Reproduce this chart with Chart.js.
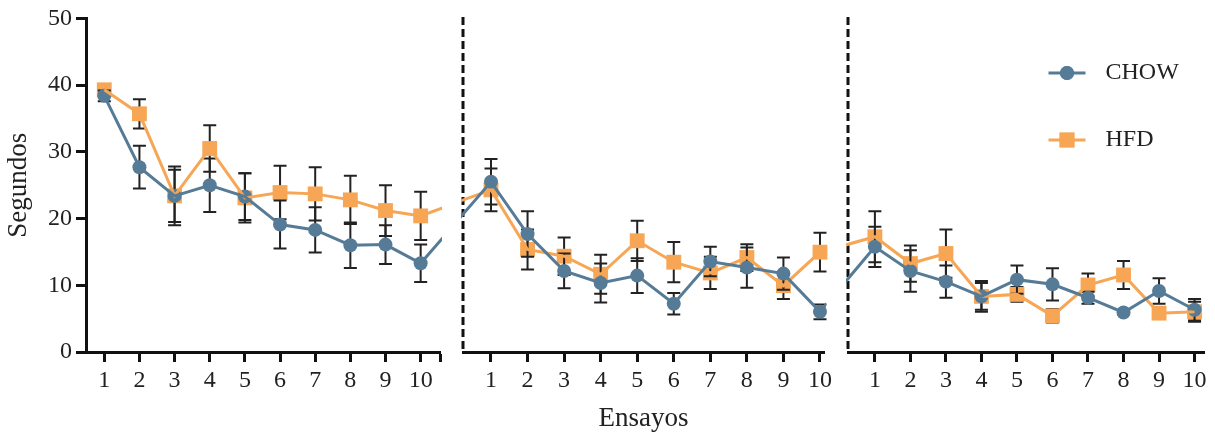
<!DOCTYPE html>
<html>
<head>
<meta charset="utf-8">
<script src="https://cdn.jsdelivr.net/npm/chart.js@4.4.1/dist/chart.umd.min.js"></script>
<style>
  html, body { margin: 0; padding: 0; background: #fff; }
  #wrap { position: relative; width: 1215px; height: 435px; }
  #wrap canvas { position: absolute; left: 0; top: 0; }
</style>
</head>
<body>
<div id="wrap">
  <canvas id="block1" width="1215" height="435"></canvas>
  <canvas id="block2" width="1215" height="435"></canvas>
  <canvas id="block3" width="1215" height="435"></canvas>
</div>
<script>
// ---------- data ----------
const trials = [1, 2, 3, 4, 5, 6, 7, 8, 9, 10];
const yTicks = [0, 10, 20, 30, 40, 50];
const seriesNames = ["CHOW", "HFD"];

const chowB1 = [38.4, 27.7, 23.4, 25.0, 23.3, 19.1, 18.3, 16.0, 16.1, 13.3];
const chowErrB1 = [0.8, 3.2, 3.9, 4.0, 3.5, 3.6, 3.4, 3.4, 2.9, 2.8];
const hfdB1 = [39.3, 35.7, 23.4, 30.5, 23.1, 23.9, 23.7, 22.8, 21.2, 20.4];
const hfdErrB1 = [0.5, 2.2, 4.4, 3.5, 3.7, 4.0, 4.0, 3.6, 3.8, 3.6];

const chowB2 = [25.4, 17.6, 12.1, 10.3, 11.4, 7.2, 13.5, 12.6, 11.7, 6.0];
const chowErrB2 = [3.4, 3.4, 2.6, 2.9, 2.6, 1.6, 2.2, 3.0, 2.4, 1.1];
const hfdB2 = [24.2, 15.3, 14.3, 11.6, 16.6, 13.4, 11.8, 14.1, 9.9, 14.9];
const hfdErrB2 = [3.2, 3.0, 2.8, 2.9, 3.0, 3.0, 2.4, 2.0, 2.0, 2.9];

const chowB3 = [15.7, 12.1, 10.5, 8.3, 10.8, 10.1, 8.1, 5.9, 9.1, 6.3];
const chowErrB3 = [3.0, 3.1, 2.4, 2.3, 2.1, 2.4, 0.9, 0.3, 1.9, 1.6];
const hfdB3 = [17.2, 13.2, 14.7, 8.3, 8.6, 5.4, 10.0, 11.5, 5.8, 6.0];
const hfdErrB3 = [3.8, 2.7, 3.6, 2.0, 1.1, 1.0, 1.7, 2.1, 0.4, 1.5];

const chowBlocks = [chowB1, chowB2, chowB3];
const chowErrs = [chowErrB1, chowErrB2, chowErrB3];
const hfdBlocks = [hfdB1, hfdB2, hfdB3];
const hfdErrs = [hfdErrB1, hfdErrB2, hfdErrB3];

// ---------- style ----------
const BLUE = "#557b97";
const ORANGE = "#f6a654";
const INK = "#222";
const AXIS = "#111";
const FONT = "'Liberation Serif', 'Times New Roman', serif";

Chart.defaults.font.family = FONT;
Chart.defaults.color = INK;

// panel layout (pixels) and x range; prevX / nextX place the neighbouring
// block's point so the connecting line runs across the break
const panels = [
  { id: "block1", left: 0,   right: 440,  yWidth: 86, min: 0.48,  max: 10.55, prevX: null,  nextX: 12.0 },
  { id: "block2", left: 463, right: 824,  yWidth: 0,  min: 0.234, max: 10.11, prevX: -0.92, nextX: 11.5 },
  { id: "block3", left: 848, right: 1206, yWidth: 0,  min: 0.243, max: 10.28, prevX: -0.54, nextX: null }
];

// ---------- plugins ----------
const errorBars = {
  id: "errorBars",
  beforeDatasetDraw(chart, args) {
    const ds = chart.data.datasets[args.index];
    if (!ds.errors) return;
    const y = chart.scales.y, ctx = chart.ctx;
    ctx.save();
    ctx.strokeStyle = INK;
    ctx.lineWidth = 2;
    args.meta.data.forEach((pt, i) => {
      const v = ds.data[i].y, e = ds.errors[i];
      const top = y.getPixelForValue(v + e), bot = y.getPixelForValue(v - e);
      ctx.beginPath();
      ctx.moveTo(pt.x, top); ctx.lineTo(pt.x, bot);
      ctx.moveTo(pt.x - 6.5, top); ctx.lineTo(pt.x + 6.5, top);
      ctx.moveTo(pt.x - 6.5, bot); ctx.lineTo(pt.x + 6.5, bot);
      ctx.stroke();
    });
    ctx.restore();
  }
};

// dashed break line on the left edge of blocks 2 and 3
const breakLine = {
  id: "breakLine",
  beforeDatasetsDraw(chart) {
    const ctx = chart.ctx, y = chart.scales.y;
    const x = chart.chartArea.left;
    ctx.save();
    ctx.strokeStyle = AXIS;
    ctx.lineWidth = 3;
    ctx.setLineDash([8, 4]);
    ctx.beginPath();
    ctx.moveTo(x, y.getPixelForValue(50));
    ctx.lineTo(x, y.getPixelForValue(0));
    ctx.stroke();
    ctx.restore();
  }
};

const sideLegend = {
  id: "sideLegend",
  afterDraw(chart) {
    const ctx = chart.ctx, a = chart.chartArea;
    const items = [
      { text: seriesNames[0], color: BLUE, style: "circle", r: 7, dy: 56 },
      { text: seriesNames[1], color: ORANGE, style: "rect", r: 10.5, dy: 123 }
    ];
    ctx.save();
    items.forEach(it => {
      const y = a.top + it.dy, x0 = a.right - 156, x1 = a.right - 119;
      ctx.strokeStyle = it.color;
      ctx.lineWidth = 3;
      ctx.beginPath(); ctx.moveTo(x0, y); ctx.lineTo(x1, y); ctx.stroke();
      ctx.fillStyle = it.color;
      Chart.helpers.drawPoint(ctx, { pointStyle: it.style, radius: it.r, borderWidth: 0 }, (x0 + x1) / 2, y);
      ctx.fill();
      ctx.fillStyle = INK;
      ctx.font = "24px " + FONT;
      ctx.textBaseline = "middle";
      ctx.fillText(it.text, a.right - 99, y);
    });
    ctx.restore();
  }
};

// ---------- charts ----------
function pts(values) {
  return trials.map((t, i) => ({ x: t, y: values[i] }));
}

function withNeighbours(p, idx, blocks) {
  const data = pts(blocks[idx]);
  if (p.prevX !== null) data.unshift({ x: p.prevX, y: blocks[idx - 1][9] });
  if (p.nextX !== null) data.push({ x: p.nextX, y: blocks[idx + 1][0] });
  return data;
}

panels.forEach((p, idx) => {
  const first = idx === 0;
  const xTickVals = first ? trials.concat([p.max]) : trials;
  const extra = first ? [] : [breakLine];
  if (idx === 2) extra.push(sideLegend);

  new Chart(document.getElementById(p.id), {
    type: "line",
    data: {
      datasets: [
        { label: "CHOW line", data: withNeighbours(p, idx, chowBlocks), borderColor: BLUE, borderWidth: 3, pointRadius: 0, clip: 2 },
        { label: "HFD line", data: withNeighbours(p, idx, hfdBlocks), borderColor: ORANGE, borderWidth: 3, pointRadius: 0, clip: 2 },
        { label: seriesNames[0], data: pts(chowBlocks[idx]), errors: chowErrs[idx], showLine: false, clip: false,
          pointStyle: "circle", pointRadius: 7, pointBackgroundColor: BLUE, pointBorderWidth: 0 },
        { label: seriesNames[1], data: pts(hfdBlocks[idx]), errors: hfdErrs[idx], showLine: false, clip: false,
          pointStyle: "rect", pointRadius: 10.5, pointBackgroundColor: ORANGE, pointBorderWidth: 0 }
      ]
    },
    options: {
      responsive: false,
      animation: false,
      devicePixelRatio: 1,
      layout: { padding: { top: 17, left: p.left, right: 1215 - p.right, bottom: 0 } },
      plugins: { legend: { display: false }, tooltip: { enabled: false } },
      scales: {
        x: {
          type: "linear",
          min: p.min,
          max: p.max,
          afterBuildTicks: s => { s.ticks = xTickVals.map(v => ({ value: v })); },
          afterFit: s => { s.height = 83; },
          grid: { drawOnChartArea: false, drawTicks: true, tickLength: 10, tickWidth: 3, tickColor: AXIS },
          border: { color: AXIS, width: 3 },
          ticks: {
            color: INK, padding: 4, maxRotation: 0, autoSkip: false,
            font: { size: 24 },
            callback: v => Number.isInteger(v) ? String(v) : ""
          },
          title: {
            display: idx === 1, text: "Ensayos", color: INK,
            font: { size: 27 }, padding: { top: 0, bottom: 0 }
          }
        },
        y: {
          type: "linear",
          min: 0,
          max: 50,
          afterBuildTicks: s => { s.ticks = yTicks.map(v => ({ value: v })); },
          afterFit: s => { s.width = p.yWidth; },
          grid: first
            ? { drawOnChartArea: false, drawTicks: true, tickLength: 10, tickWidth: 3, tickColor: AXIS }
            : { display: false },
          border: { display: first, color: AXIS, width: 3 },
          ticks: { display: first, color: INK, padding: 4, font: { size: 24 } },
          title: {
            display: first, text: "Segundos", color: INK,
            font: { size: 27 }, padding: { top: 3, bottom: 0 }
          }
        }
      }
    },
    plugins: [errorBars].concat(extra)
  });
});
</script>
</body>
</html>
